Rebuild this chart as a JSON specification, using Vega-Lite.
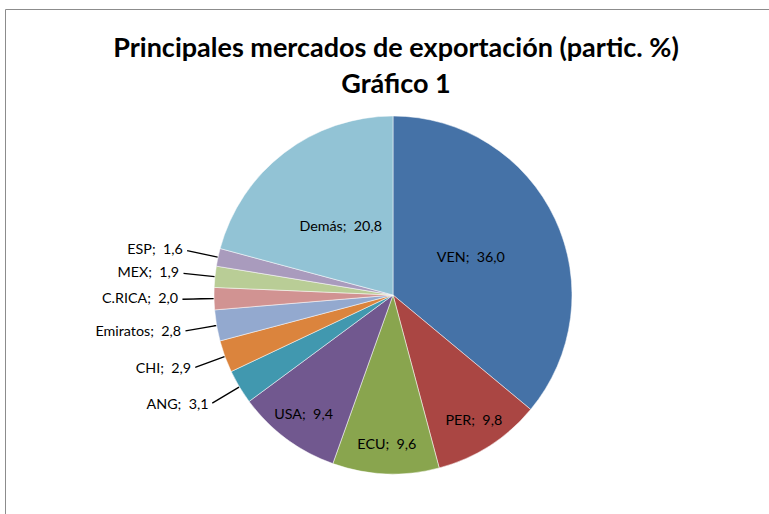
{
  "$schema": "https://vega.github.io/schema/vega-lite/v6.json",
  "autosize": {"type": "none"},
  "padding": {"left": 5, "top": 9, "right": 0, "bottom": 0},
  "width": 776,
  "height": 572,
  "background": "#ffffff",
  "view": {"stroke": "#8c8c8c", "strokeWidth": 1, "fill": "#ffffff"},
  "title": {
    "text": ["Principales mercados de exportación (partic. %)", "Gráfico 1"],
    "font": "Lato",
    "fontSize": 27,
    "fontWeight": "bold",
    "color": "#000000",
    "anchor": "middle",
    "baseline": "top",
    "lineHeight": 36,
    "offset": -90,
    "dx": 3
  },
  "data": {
    "values": [
      {"pais": "VEN", "valor": 36.0, "orden": 1},
      {"pais": "PER", "valor": 9.8, "orden": 2},
      {"pais": "ECU", "valor": 9.6, "orden": 3},
      {"pais": "USA", "valor": 9.4, "orden": 4},
      {"pais": "ANG", "valor": 3.1, "orden": 5},
      {"pais": "CHI", "valor": 2.9, "orden": 6},
      {"pais": "Emiratos", "valor": 2.8, "orden": 7},
      {"pais": "C.RICA", "valor": 2.0, "orden": 8},
      {"pais": "MEX", "valor": 1.9, "orden": 9},
      {"pais": "ESP", "valor": 1.6, "orden": 10},
      {"pais": "Demás", "valor": 20.8, "orden": 11}
    ]
  },
  "transform": [
    {"calculate": "datum.pais + ';\u00a0 ' + replace(format(datum.valor, '.1f'), '.', ',')", "as": "etiqueta"},
    {"calculate": "datum.valor > 15 ? datum.etiqueta : ''", "as": "eGrande"},
    {"calculate": "datum.valor > 5 && datum.valor <= 15 ? datum.etiqueta : ''", "as": "eMedia"},
    {"calculate": "datum.valor <= 5 ? datum.etiqueta : ''", "as": "eFuera"}
  ],
  "encoding": {"order": {"field": "orden", "type": "quantitative"}},
  "layer": [
    {
      "mark": {"type": "arc", "radius": 179, "stroke": "#ffffff", "strokeWidth": 0.5},
      "encoding": {
        "theta": {"field": "valor", "type": "quantitative", "stack": true, "scale": {"domain": [0, 99.9]}},
        "color": {
          "field": "pais",
          "type": "nominal",
          "scale": {
            "domain": ["VEN", "PER", "ECU", "USA", "ANG", "CHI", "Emiratos", "C.RICA", "MEX", "ESP", "Demás"],
            "range": ["#4572A7", "#AA4643", "#89A54E", "#71588F", "#4198AF", "#DB843D", "#93A9CF", "#D19392", "#B9CD96", "#A99BBD", "#92C3D5"]
          },
          "legend": null
        }
      }
    },
    {
      "transform": [
        {"window": [{"op": "sum", "field": "valor", "as": "acum"}], "sort": [{"field": "orden"}]},
        {"calculate": "datum.acum - datum.valor / 2", "as": "medio"},
        {"calculate": "datum.medio + 0.01", "as": "medio2"},
        {"filter": "datum.valor <= 5"}
      ],
      "mark": {"type": "arc", "radius": 210, "radius2": 180, "fillOpacity": 0, "stroke": "#000000", "strokeWidth": 1.2},
      "encoding": {
        "theta": {"field": "medio", "type": "quantitative", "scale": {"domain": [0, 99.9]}},
        "theta2": {"field": "medio2"}
      }
    },
    {
      "mark": {"type": "text", "radius": 86, "font": "Lato", "fontSize": 14.3, "color": "#000000", "align": "center", "baseline": "middle"},
      "encoding": {
        "theta": {"field": "valor", "type": "quantitative", "stack": true, "scale": {"domain": [0, 99.9]}},
        "text": {"field": "eGrande"}
      }
    },
    {
      "mark": {"type": "text", "radius": 150, "font": "Lato", "fontSize": 14.3, "color": "#000000", "align": "center", "baseline": "middle"},
      "encoding": {
        "theta": {"field": "valor", "type": "quantitative", "stack": true, "scale": {"domain": [0, 99.9]}},
        "text": {"field": "eMedia"}
      }
    },
    {
      "mark": {"type": "text", "radius": 215, "font": "Lato", "fontSize": 14.3, "color": "#000000", "align": "right", "baseline": "middle"},
      "encoding": {
        "theta": {"field": "valor", "type": "quantitative", "stack": true, "scale": {"domain": [0, 99.9]}},
        "text": {"field": "eFuera"}
      }
    }
  ]
}
